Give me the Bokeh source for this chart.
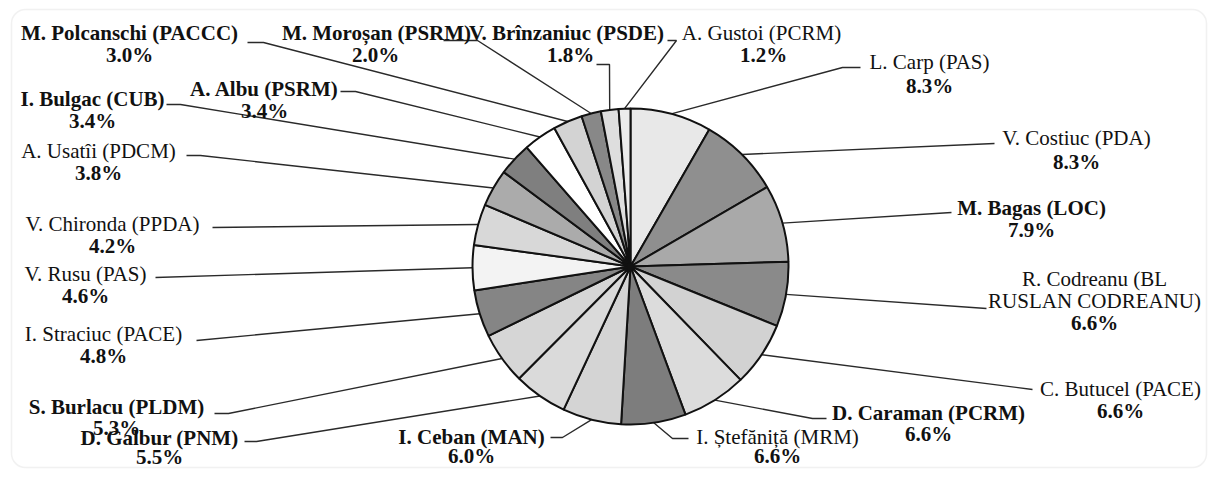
import numpy as np
from bokeh.plotting import figure
from bokeh.models import ColumnDataSource, Range1d, BoxAnnotation
from bokeh.embed import file_html
from bokeh.resources import INLINE
from bokeh.core.properties import value

# ---------------- data ----------------
candidates = [
    "L. Carp (PAS)", "V. Costiuc (PDA)", "M. Bagas (LOC)",
    "R. Codreanu (BL\nRUSLAN CODREANU)", "C. Butucel (PACE)",
    "D. Caraman (PCRM)", "I. Ștefăniță (MRM)", "I. Ceban (MAN)",
    "D. Galbur (PNM)", "S. Burlacu (PLDM)", "I. Straciuc (PACE)",
    "V. Rusu (PAS)", "V. Chironda (PPDA)", "A. Usatîi (PDCM)",
    "I. Bulgac (CUB)", "A. Albu (PSRM)", "M. Polcanschi (PACCC)",
    "M. Moroșan (PSRM)", "V. Brînzaniuc (PSDE)", "A. Gustoi (PCRM)",
]
shares = [8.3, 8.3, 7.9, 6.6, 6.6, 6.6, 6.6, 6.0, 5.5, 5.3, 4.8,
          4.6, 4.2, 3.8, 3.4, 3.4, 3.0, 2.0, 1.8, 1.2]

# ---------------- styles / layout ----------------
slice_colors = ["#e8e8e8", "#8f8f8f", "#a9a9a9", "#8a8a8a", "#d2d2d2",
                "#dcdcdc", "#7d7d7d", "#d4d4d4", "#dadada", "#d6d6d6",
                "#858585", "#f3f3f3", "#d8d8d8", "#ababab", "#7f7f7f",
                "#ffffff", "#d3d3d3", "#888888", "#dedede", "#ececec"]
bold_flags = [False, False, True, False, False, True, False, True, True, True,
              False, False, False, False, True, True, True, True, True, False]

# label centre x and first-line centre y (pixels from top-left of the chart)
label_pos = [(929, 61), (1076, 137), (1031, 207), (1094, 278), (1120, 388),
             (928, 412), (777, 436), (471, 436), (159, 437), (116, 406),
             (103, 333), (85, 273), (112, 223), (98, 150), (92, 98),
             (264, 88), (129, 32), (376, 32), (566, 32), (761, 32)]
pct_pos = {17: (375, 54), 18: (570, 54), 19: (763, 54),
           0: (929, 85), 1: (1076, 161), 5: (928, 433), 6: (777, 455),
           7: (471, 455), 8: (159, 456), 9: (116, 427)}
# leader points from the label side toward the pie
leader_pts = [
    [(860, 67), (842, 67)], [(994, 143)], [(951, 212)], [(986, 308)],
    [(1032, 389)], [(826, 418), (812, 418)], [(688, 438), (672, 438)],
    [(550, 437), (562, 437)], [(244, 441), (256, 441)], [(214, 413), (228, 413)],
    [(196, 340)], [(155, 277)], [(212, 227)], [(186, 155), (200, 155)],
    [(166, 104), (180, 104)], [(340, 91), (355, 91)], [(247, 42), (263, 42)],
    [(443, 40), (477, 40)], [(596, 64), (609, 64)], [(667, 40), (676, 40)],
]
W, H = 1209, 470
CX, CY_S, R = 630, 266, 158
LINE_H = 22
FONT = "Times New Roman"


def dy(sy):
    return H - sy


CY = dy(CY_S)

vals = np.array(shares, dtype=float)
frac = vals / vals.sum() * 2 * np.pi
cum_end = np.cumsum(frac)
cum_start = cum_end - frac
mid = (cum_start + cum_end) / 2

p = figure(width=W, height=H, x_range=Range1d(0, W), y_range=Range1d(0, H),
           output_backend="svg", toolbar_location=None,
           x_axis_type=None, y_axis_type=None, min_border=0)
p.grid.visible = False
p.outline_line_color = None
p.background_fill_color = "white"
p.border_fill_color = "white"

# rounded chart-area border
p.add_layout(BoxAnnotation(left=11, right=1206, bottom=dy(467), top=dy(9),
                           fill_alpha=0, line_color="#d2d2d2", line_width=1.5,
                           border_radius=14))

# leader lines
xs, ys = [], []
for i, pts in enumerate(leader_pts):
    ex = CX + R * np.sin(mid[i])
    ey = CY + R * np.cos(mid[i])
    xs.append([q[0] for q in pts] + [ex])
    ys.append([dy(q[1]) for q in pts] + [ey])
p.multi_line(xs=xs, ys=ys, line_color="#2a2a2a", line_width=1.4)

# pie
src = ColumnDataSource(dict(
    start=np.pi / 2 - cum_end, end=np.pi / 2 - cum_start,
    color=slice_colors, name=candidates, share=shares))
p.wedge(x=CX, y=CY, radius=R, start_angle="start", end_angle="end",
        fill_color="color", line_color="#111111", line_width=2, source=src)
p.scatter(x=[CX], y=[CY], size=7, color="#111111")

# labels
tb = dict(x=[], y=[], t=[])
tn = dict(x=[], y=[], t=[])
for i, name in enumerate(candidates):
    lx, ly = label_pos[i]
    tgt = tb if bold_flags[i] else tn
    lines = name.split("\n")
    for k, ln in enumerate(lines):
        tgt["x"].append(lx)
        tgt["y"].append(dy(ly + k * LINE_H))
        tgt["t"].append(ln)
    px, py = pct_pos.get(i, (lx, ly + len(lines) * LINE_H))
    tb["x"].append(px)
    tb["y"].append(dy(py))
    tb["t"].append(f"{shares[i]:.1f}%")

for d, style in ((tb, "bold"), (tn, "normal")):
    p.text(x="x", y="y", text="t", source=ColumnDataSource(d),
           text_font=value(FONT), text_font_size="21px", text_font_style=style,
           text_align="center", text_baseline="middle", text_color="#111111")

open("out.html", "w").write(file_html(p, INLINE))
